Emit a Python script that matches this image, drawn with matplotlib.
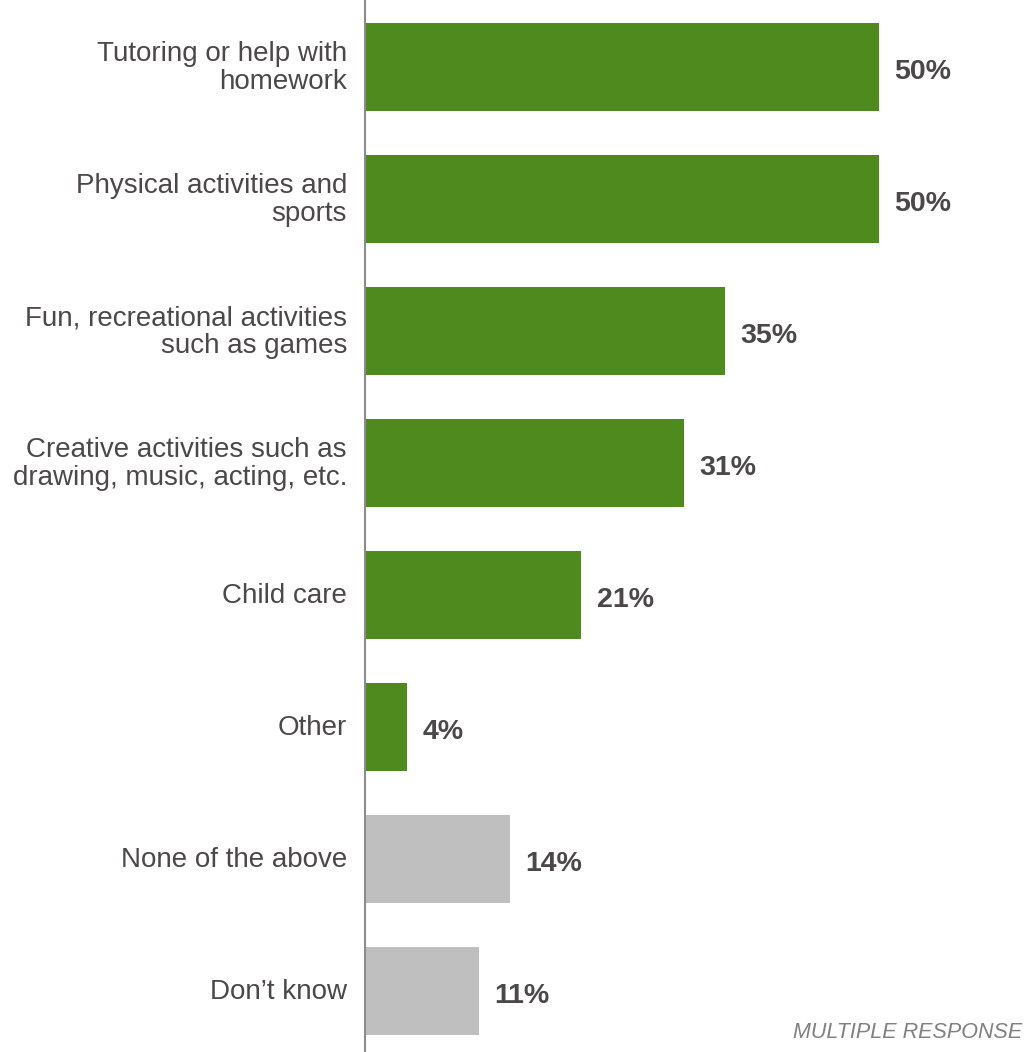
import matplotlib
matplotlib.use("Agg")
import matplotlib.pyplot as plt
import matplotlib.transforms as mtransforms

plt.rcParams['font.family'] = ['Liberation Sans', 'DejaVu Sans']

categories = [
    "Tutoring or help with\nhomework",
    "Physical activities and\nsports",
    "Fun, recreational activities\nsuch as games",
    "Creative activities such as\ndrawing, music, acting, etc.",
    "Child care",
    "Other",
    "None of the above",
    "Don\u2019t know",
]
values = [50, 50, 35, 31, 21, 4, 14, 11]
value_labels = ["50%", "50%", "35%", "31%", "21%", "4%", "14%", "11%"]

GREEN = "#4f8a1f"
GREY = "#bfbfbf"
TEXT = "#4d4848"
colors = [GREEN] * 6 + [GREY] * 2

W, H = 1025, 1052
fig = plt.figure(figsize=(W / 100, H / 100), dpi=100)

left_px = 366
ax = fig.add_axes([left_px / W, 0, 1 - left_px / W, 1])

pitch = 132.0
first_center = 67.0
ax.set_ylim((H - first_center) / pitch, -first_center / pitch)
ax.set_xlim(0, (W - left_px) / 10.26)

pos = list(range(len(categories)))
ax.barh(pos, values, height=88 / pitch, color=colors, edgecolor="none")

for p, v, lab in zip(pos, values, value_labels):
    ax.annotate(lab, xy=(v, p), xytext=(11, -3.5), textcoords="offset points",
                ha="left", va="center", fontsize=20.5, fontweight="bold",
                color=TEXT)

# category names, right-aligned just left of the axis line
label_trans = mtransforms.blended_transform_factory(ax.transAxes, ax.transData)
label_trans = label_trans + mtransforms.ScaledTranslation(-19 / 100, -1 / 100,
                                                          fig.dpi_scale_trans)
for p, name in zip(pos, categories):
    ax.text(0, p, name, transform=label_trans, ha="right", va="center",
            multialignment="right", fontsize=20, color=TEXT, linespacing=1.07)

ax.set_xticks([])
ax.set_yticks([])

for s in ["top", "right", "bottom"]:
    ax.spines[s].set_visible(False)
ax.spines["left"].set_color("#8c8c8c")
ax.spines["left"].set_linewidth(1.5)
ax.spines["left"].set_position(("outward", 1))

# heading sits just above the canvas; only its descender reaches the top
fig.text(780 / W, 1 + 3 / H, "Services offered to students after school",
         ha="right", va="baseline", fontsize=20, fontweight="bold",
         color=TEXT)

fig.text(1022 / W, 1 - 1032 / H, "MULTIPLE RESPONSE", ha="right", va="center",
         fontsize=15.5, fontstyle="italic", color="#808080")

fig.savefig("out.png", dpi=100)
